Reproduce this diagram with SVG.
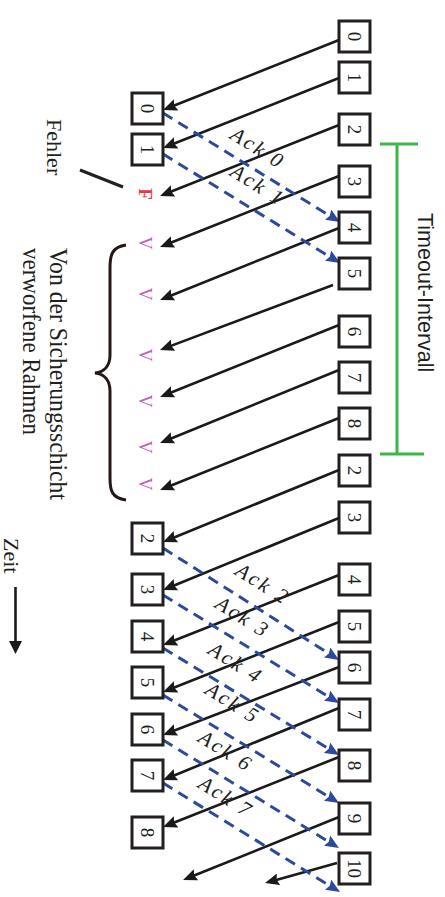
<svg xmlns="http://www.w3.org/2000/svg" width="445" height="897" viewBox="0 0 445 897">
<style>
.box{fill:#fff;stroke:#231f20;stroke-width:3}
.num{font-family:"Liberation Serif","Times New Roman",serif;font-size:19px;fill:#231f20;text-anchor:middle}
.ar{stroke:#1a1a1a;stroke-width:2.6;fill:none}
.ack{stroke:#2c4a9c;stroke-width:3;fill:none;stroke-dasharray:11 7}
.lbl{font-family:"Liberation Serif","Times New Roman",serif;font-style:italic;font-size:21px;letter-spacing:2.5px;fill:#231f20}
.ser{font-family:"Liberation Serif","Times New Roman",serif;fill:#231f20}
.v{font-family:"Liberation Serif","Times New Roman",serif;font-size:18px;fill:#c560b2;text-anchor:middle}
.grn{stroke:#3cb54a;stroke-width:3;fill:none}
</style>
<defs>
<marker id="ah" markerUnits="userSpaceOnUse" markerWidth="14" markerHeight="12" viewBox="0 0 14 12" refX="8" refY="6" orient="auto">
<path d="M0,0 L14,6 L0,12 L2,6 z" fill="#1a1a1a"/>
</marker>
<marker id="bh" markerUnits="userSpaceOnUse" markerWidth="14" markerHeight="12" viewBox="0 0 14 12" refX="8" refY="6" orient="auto">
<path d="M0,0 L14,6 L0,12 L2,6 z" fill="#2c4a9c"/>
</marker>
</defs>
<rect width="445" height="897" fill="#fff"/>

<g id="connectors">
<g id="frames">
<line class="ar" marker-end="url(#ah)" x1="339" y1="40" x2="168.6" y2="107.8"/>
<line class="ar" marker-end="url(#ah)" x1="339" y1="78" x2="168.6" y2="145.8"/>
<line class="ar" marker-end="url(#ah)" x1="339" y1="125" x2="165.6" y2="193.8"/>
<line class="ar" marker-end="url(#ah)" x1="339" y1="176" x2="165.6" y2="244.8"/>
<line class="ar" marker-end="url(#ah)" x1="339" y1="228" x2="165.6" y2="297.8"/>
<line class="ar" marker-end="url(#ah)" x1="333" y1="285" x2="165.6" y2="347.9"/>
<line class="ar" marker-end="url(#ah)" x1="339" y1="325" x2="165.6" y2="394.8"/>
<line class="ar" marker-end="url(#ah)" x1="339" y1="370" x2="165.6" y2="440.8"/>
<line class="ar" marker-end="url(#ah)" x1="339" y1="418" x2="165.6" y2="487.8"/>
<line class="ar" marker-end="url(#ah)" x1="339" y1="470" x2="168.6" y2="539.7"/>
<line class="ar" marker-end="url(#ah)" x1="339" y1="518" x2="168.6" y2="587.7"/>
<line class="ar" marker-end="url(#ah)" x1="339" y1="575" x2="168.6" y2="642.8"/>
<line class="ar" marker-end="url(#ah)" x1="339" y1="622" x2="168.6" y2="689.8"/>
<line class="ar" marker-end="url(#ah)" x1="339" y1="667" x2="168.6" y2="732.8"/>
<line class="ar" marker-end="url(#ah)" x1="339" y1="708" x2="168.6" y2="777.7"/>
<line class="ar" marker-end="url(#ah)" x1="339" y1="757" x2="168.6" y2="824.8"/>
<line class="ar" marker-end="url(#ah)" x1="339" y1="817" x2="188.6" y2="877.8"/>
<line class="ar" marker-end="url(#ah)" x1="337" y1="863" x2="270.8" y2="881.4"/>
</g>
<g id="acks">
<line class="ack" marker-end="url(#bh)" x1="163" y1="113" x2="334.9" y2="218.9"/>
<line class="ack" marker-end="url(#bh)" x1="163" y1="154" x2="334.9" y2="259.9"/>
<line class="ack" marker-end="url(#bh)" x1="163" y1="548" x2="333.9" y2="656.8"/>
<line class="ack" marker-end="url(#bh)" x1="163" y1="595" x2="333.9" y2="699.9"/>
<line class="ack" marker-end="url(#bh)" x1="163" y1="648" x2="333.9" y2="751.9"/>
<line class="ack" marker-end="url(#bh)" x1="163" y1="695" x2="333.9" y2="799.9"/>
<line class="ack" marker-end="url(#bh)" x1="163" y1="740" x2="333.9" y2="844.9"/>
<line class="ack" marker-end="url(#bh)" x1="163" y1="783" x2="334.9" y2="888.9"/>
</g>
<g id="ack-labels">
<text class="lbl" transform="translate(229,138) rotate(32)">Ack 0</text>
<text class="lbl" transform="translate(229,175) rotate(32)">Ack 1</text>
<text class="lbl" transform="translate(234,574) rotate(32)">Ack 2</text>
<text class="lbl" transform="translate(214,607) rotate(32)">Ack 3</text>
<text class="lbl" transform="translate(207,653) rotate(32)">Ack 4</text>
<text class="lbl" transform="translate(204,693) rotate(32)">Ack 5</text>
<text class="lbl" transform="translate(197,741) rotate(32)">Ack 6</text>
<text class="lbl" transform="translate(197,787) rotate(32)">Ack 7</text>
</g>
</g>

<g id="sender">
<g id="s0"><rect class="box" x="339" y="21" width="31" height="31"/><text class="num" transform="translate(354.5,36.5) rotate(90)" y="6.5">0</text></g>
<g id="s1"><rect class="box" x="339" y="62" width="31" height="31"/><text class="num" transform="translate(354.5,77.5) rotate(90)" y="6.5">1</text></g>
<g id="s2"><rect class="box" x="339" y="114" width="31" height="31"/><text class="num" transform="translate(354.5,129.5) rotate(90)" y="6.5">2</text></g>
<g id="s3"><rect class="box" x="339" y="166" width="31" height="31"/><text class="num" transform="translate(354.5,181.5) rotate(90)" y="6.5">3</text></g>
<g id="s4"><rect class="box" x="339" y="212" width="31" height="31"/><text class="num" transform="translate(354.5,227.5) rotate(90)" y="6.5">4</text></g>
<g id="s5"><rect class="box" x="339" y="258" width="31" height="31"/><text class="num" transform="translate(354.5,273.5) rotate(90)" y="6.5">5</text></g>
<g id="s6"><rect class="box" x="339" y="316" width="31" height="31"/><text class="num" transform="translate(354.5,331.5) rotate(90)" y="6.5">6</text></g>
<g id="s7"><rect class="box" x="339" y="362" width="31" height="31"/><text class="num" transform="translate(354.5,377.5) rotate(90)" y="6.5">7</text></g>
<g id="s8"><rect class="box" x="339" y="408" width="31" height="31"/><text class="num" transform="translate(354.5,423.5) rotate(90)" y="6.5">8</text></g>
<g id="s2b"><rect class="box" x="339" y="455" width="31" height="31"/><text class="num" transform="translate(354.5,470.5) rotate(90)" y="6.5">2</text></g>
<g id="s3b"><rect class="box" x="339" y="502" width="31" height="31"/><text class="num" transform="translate(354.5,517.5) rotate(90)" y="6.5">3</text></g>
<g id="s4b"><rect class="box" x="339" y="564" width="31" height="31"/><text class="num" transform="translate(354.5,579.5) rotate(90)" y="6.5">4</text></g>
<g id="s5b"><rect class="box" x="339" y="611" width="31" height="31"/><text class="num" transform="translate(354.5,626.5) rotate(90)" y="6.5">5</text></g>
<g id="s6b"><rect class="box" x="339" y="652" width="31" height="31"/><text class="num" transform="translate(354.5,667.5) rotate(90)" y="6.5">6</text></g>
<g id="s7b"><rect class="box" x="339" y="699" width="31" height="31"/><text class="num" transform="translate(354.5,714.5) rotate(90)" y="6.5">7</text></g>
<g id="s8b"><rect class="box" x="339" y="750" width="31" height="31"/><text class="num" transform="translate(354.5,765.5) rotate(90)" y="6.5">8</text></g>
<g id="s9"><rect class="box" x="339" y="803" width="31" height="31"/><text class="num" transform="translate(354.5,818.5) rotate(90)" y="6.5">9</text></g>
<g id="s10"><rect class="box" x="339" y="853" width="31" height="31"/><text class="num" transform="translate(354.5,868.5) rotate(90)" y="6.5">10</text></g>
</g>

<g id="receiver">
<g id="r0"><rect class="box" x="132" y="93" width="31" height="31"/><text class="num" transform="translate(147.5,108.5) rotate(90)" y="6.5">0</text></g>
<g id="r1"><rect class="box" x="132" y="134" width="31" height="31"/><text class="num" transform="translate(147.5,149.5) rotate(90)" y="6.5">1</text></g>
<g id="r2"><rect class="box" x="132" y="523" width="31" height="31"/><text class="num" transform="translate(147.5,538.5) rotate(90)" y="6.5">2</text></g>
<g id="r3"><rect class="box" x="132" y="574" width="31" height="31"/><text class="num" transform="translate(147.5,589.5) rotate(90)" y="6.5">3</text></g>
<g id="r4"><rect class="box" x="132" y="621" width="31" height="31"/><text class="num" transform="translate(147.5,636.5) rotate(90)" y="6.5">4</text></g>
<g id="r5"><rect class="box" x="132" y="667" width="31" height="31"/><text class="num" transform="translate(147.5,682.5) rotate(90)" y="6.5">5</text></g>
<g id="r6"><rect class="box" x="132" y="714" width="31" height="31"/><text class="num" transform="translate(147.5,729.5) rotate(90)" y="6.5">6</text></g>
<g id="r7"><rect class="box" x="132" y="760" width="31" height="31"/><text class="num" transform="translate(147.5,775.5) rotate(90)" y="6.5">7</text></g>
<g id="r8"><rect class="box" x="132" y="817" width="31" height="31"/><text class="num" transform="translate(147.5,832.5) rotate(90)" y="6.5">8</text></g>
</g>

<g id="marks">
<text transform="translate(145,194) rotate(90)" y="6.5" font-family="Liberation Serif, serif" font-weight="bold" font-size="19" fill="#e8383d" text-anchor="middle">F</text>
<text class="v" transform="translate(145,243) rotate(90)" y="6">V</text>
<text class="v" transform="translate(145,294) rotate(90)" y="6">V</text>
<text class="v" transform="translate(145,355) rotate(90)" y="6">V</text>
<text class="v" transform="translate(145,401) rotate(90)" y="6">V</text>
<text class="v" transform="translate(145,447) rotate(90)" y="6">V</text>
<text class="v" transform="translate(145,484) rotate(90)" y="6">V</text>
</g>

<g id="fehler">
<text class="ser" font-size="22" transform="translate(47,119) rotate(90)">Fehler</text>
<line x1="80" y1="170" x2="123" y2="187" stroke="#231f20" stroke-width="3"/>
</g>

<g id="discarded">
<path d="M126,245 C112,247 110,255 110,268 L110,355 C110,366 104,372 95,373 C104,374 110,380 110,391 L110,478 C110,491 112,498 126,500" fill="none" stroke="#231815" stroke-width="3"/>
<text class="ser" font-size="26" transform="translate(50,248) rotate(90)" textLength="252" lengthAdjust="spacingAndGlyphs">Von der Sicherungsschicht</text>
<text class="ser" font-size="26" transform="translate(23,248) rotate(90)" textLength="187" lengthAdjust="spacingAndGlyphs">verworfene Rahmen</text>
</g>

<g id="timeout">
<line class="grn" x1="397" y1="144" x2="397" y2="454"/>
<line class="grn" x1="380" y1="144" x2="418" y2="144"/>
<line class="grn" x1="380" y1="454" x2="424" y2="454"/>
<text transform="translate(418,213) rotate(90)" font-family="Liberation Sans, Arial, sans-serif" font-size="21.5" fill="#231f20">Timeout-Intervall</text>
</g>

<g id="zeit">
<text class="ser" font-size="22" transform="translate(4,538) rotate(90)">Zeit</text>
<line x1="15.5" y1="587" x2="15.5" y2="645" stroke="#1a1a1a" stroke-width="2.6"/>
<path d="M9,641 L22,641 L15.5,654 z" fill="#1a1a1a"/>
</g>
</svg>
